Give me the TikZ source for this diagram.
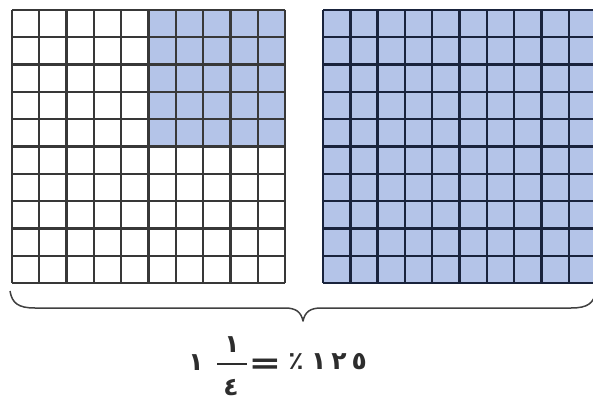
\documentclass[tikz,border=0pt]{standalone}
\usepackage{fontspec}
\newfontfamily\arabicfont[Script=Arabic]{DejaVu Sans}
\definecolor{cellblue}{RGB}{180,196,232}
\definecolor{gridnavy}{RGB}{25,35,60}
\definecolor{inkgray}{RGB}{45,45,45}
\tikzset{
  leftgrid/.style={draw=black!78, line width=2.3pt},
  rightgrid/.style={draw=gridnavy, line width=2.4pt},
  bracestyle/.style={draw=black!75, line width=1.5pt, line join=round},
  digit/.style={font=\arabicfont\bfseries\fontsize{25}{30}\selectfont, text=inkgray, inner sep=0pt},
  fracbar/.style={draw=inkgray, line width=2pt},
}
\begin{document}
\begin{tikzpicture}[x=1pt,y=-1pt]
\useasboundingbox (0,0) rectangle (593,406);
\fill[white] (0,0) rectangle (593,406);
\clip (0,0) rectangle (593,406);
\def\cs{27.3}
% left grid
\fill[cellblue] (12+5*\cs,10) rectangle (12+10*\cs,10+5*\cs);
\foreach \i in {0,...,10} {
  \draw[leftgrid] (12+\i*\cs,10) -- (12+\i*\cs,10+10*\cs);
  \draw[leftgrid] (12,10+\i*\cs) -- (12+10*\cs,10+\i*\cs);
}
% right grid
\fill[cellblue] (323,10) rectangle (323+10*\cs,10+10*\cs);
\foreach \i in {0,...,10} {
  \draw[rightgrid] (323+\i*\cs,10) -- (323+\i*\cs,10+10*\cs);
  \draw[rightgrid] (323,10+\i*\cs) -- (323+10*\cs,10+\i*\cs);
}
% brace
\coordinate (bl) at (10,291);
\coordinate (tip) at (303,321);
\coordinate (br) at (596,291);
\draw[bracestyle] (bl) .. controls (12,303) and (18,308) .. (35,308) -- (285,308)
  .. controls (296,308) and (301,312) .. (tip)
  .. controls (305,312) and (310,308) .. (321,308) -- (571,308)
  .. controls (588,308) and (594,303) .. (br);
% equation
\node[digit] (whole) at (196,363) {١};
\node[digit] (num) at (232,345) {١};
\coordinate (barl) at (217,364);
\coordinate (barr) at (247,364);
\draw[fracbar] (barl) -- (barr);
\node[digit] (den) at (231,388) {٤};
\node[digit, font=\arabicfont\bfseries\fontsize{30}{34}\selectfont] (eq) at (265,366) {\scalebox{1.3}[1]{=}};
\node[digit] (pct) at (296,362) {٪};
\node[digit] (num125) at (339,362) {١\hspace{5pt}٢\hspace{5pt}٥};
\end{tikzpicture}
\end{document}
